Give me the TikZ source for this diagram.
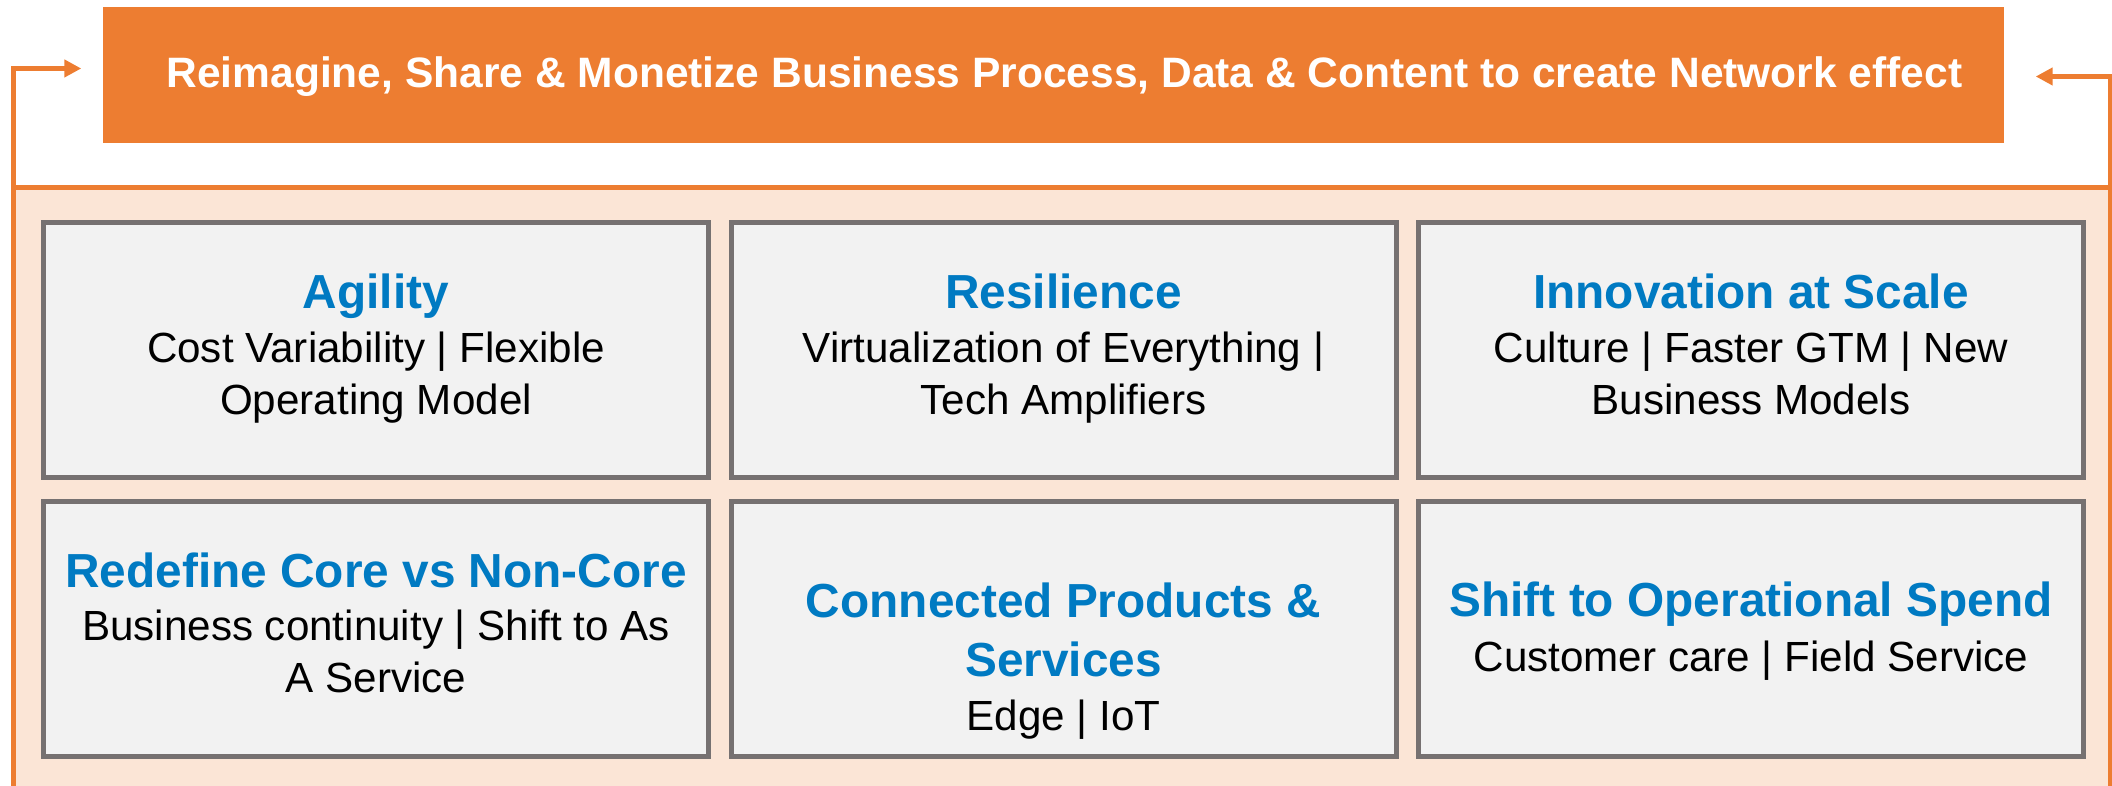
\documentclass[tikz,border=0pt]{standalone}
\usepackage{fontspec}
\setmainfont{Liberation Sans}
\usetikzlibrary{shapes.geometric, arrows.meta}
\definecolor{orangeline}{HTML}{ED7D31}
\definecolor{peach}{HTML}{FBE5D6}
\definecolor{boxgray}{HTML}{F2F2F2}
\definecolor{boxline}{HTML}{767171}
\definecolor{headblue}{HTML}{007AC2}
\tikzstyle{banner} = [rectangle, minimum width=19.01cm, minimum height=1.36cm, draw=none, fill=orangeline]
\tikzstyle{bannertext} = [draw=none, inner sep=0pt, text=white, font=\bfseries\fontsize{12.1}{14}\selectfont]
\tikzstyle{panel} = [rectangle, minimum width=20.96cm, minimum height=5.98cm, draw=none, fill=peach]
\tikzstyle{process} = [rectangle, minimum width=6.65cm, minimum height=2.55cm, draw=boxline, line width=0.05cm, fill=boxgray]
\tikzstyle{heading} = [draw=none, inner sep=0pt, align=center, text=headblue, font=\bfseries\fontsize{13.6}{16.8}\selectfont]
\tikzstyle{body} = [draw=none, inner sep=0pt, align=center, text=black, font=\fontsize{12}{14.8}\selectfont]
\tikzstyle{loopline} = [orangeline, line width=0.05cm]
\tikzstyle{arrow} = [orangeline, line width=0.05cm, ->, >={Triangle[length=0.17cm, width=0.17cm]}]

\begin{document}
\begin{tikzpicture}[node distance=6.875cm]
		\useasboundingbox (0,0) rectangle (21.12,7.86);
		\node (panel) [panel] at (10.62,2.99) {};
		\node (title) [banner] at (10.535,7.11) {};
		\node (title_t) [bannertext, anchor=base] at (10.645,6.98) {Reimagine, Share \& Monetize Business Process, Data \& Content to create Network effect};
		\coordinate (inL) at ([xshift=-0.21cm, yshift=0.065cm]title.west);
		\coordinate (inR) at ([xshift=0.31cm, yshift=-0.015cm]title.east);
		\draw [loopline] (panel.north west) -- (panel.north east);
		\draw [arrow] (panel.south west) |- (inL);
		\draw [arrow] (panel.south east) |- (inR);
		
		\node (agility) [process] at (3.76,4.36) {};
		\node (resilience) [process, right of=agility] {};
		\node (innovation) [process, right of=resilience] {};
		\node (redefine) [process, below of=agility, node distance=2.79cm] {};
		\node (connected) [process, right of=redefine] {};
		\node (shift) [process, right of=connected] {};
		
		% last baseline of each text block
		\node (agility_h) [heading, anchor=base] at ([yshift=0.41cm]agility.center) {Agility};
		\node (agility_b) [body, anchor=base] at ([yshift=-0.65cm]agility.center) {Cost Variability | Flexible\\Operating Model};
		\node (resilience_h) [heading, anchor=base] at ([yshift=0.41cm]resilience.center) {Resilience};
		\node (resilience_b) [body, anchor=base] at ([yshift=-0.65cm]resilience.center) {Virtualization of Everything |\\Tech Amplifiers};
		\node (innovation_h) [heading, anchor=base] at ([yshift=0.41cm]innovation.center) {Innovation at Scale};
		\node (innovation_b) [body, anchor=base] at ([yshift=-0.65cm]innovation.center) {Culture | Faster GTM | New\\Business Models};
		
		\node (redefine_h) [heading, anchor=base] at ([yshift=0.41cm]redefine.center) {Redefine Core vs Non-Core};
		\node (redefine_b) [body, anchor=base] at ([yshift=-0.64cm]redefine.center) {Business continuity | Shift to As\\A Service};
		\node (connected_h) [heading, anchor=base] at ([yshift=-0.48cm]connected.center) {Connected Products \&\\Services};
		\node (connected_b) [body, anchor=base] at ([yshift=-1.02cm]connected.center) {Edge | IoT};
		\node (shift_h) [heading, anchor=base] at ([yshift=0.12cm]shift.center) {Shift to Operational Spend};
		\node (shift_b) [body, anchor=base] at ([yshift=-0.43cm]shift.center) {Customer care | Field Service};
	\end{tikzpicture}
\end{document}
